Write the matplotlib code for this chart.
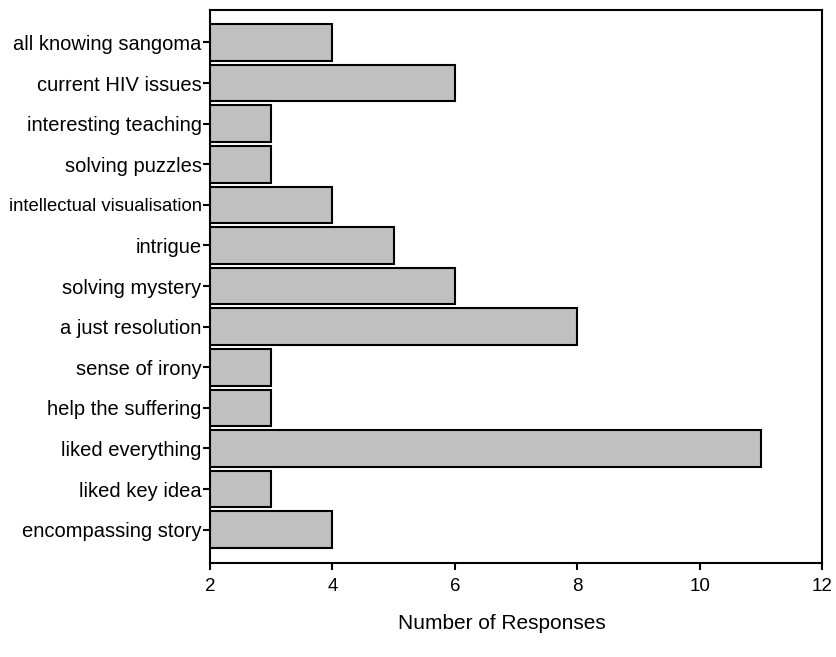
import matplotlib.pyplot as plt

plt.rcParams['font.family'] = ['Liberation Sans', 'DejaVu Sans']

# bottom to top
categories = ["encompassing story", "liked key idea", "liked everything", "help the suffering",
              "sense of irony", "a just resolution", "solving mystery", "intrigue",
              "intellectual visualisation", "solving puzzles", "interesting teaching",
              "current HIV issues", "all knowing sangoma"]
responses = [4, 3, 11, 3, 3, 8, 6, 5, 4, 3, 3, 6, 4]
xticks = [2, 4, 6, 8, 10, 12]

fig = plt.figure(figsize=(8.36, 6.57), dpi=100)
ax = fig.add_axes([0.2512, 0.1431, 0.7321, 0.8417])

pos = list(range(len(categories)))
ax.barh(pos, responses, height=0.9, color="#c0c0c0", edgecolor="black", linewidth=1.5)

ax.set_xlim(2, 12)
ax.set_ylim(-0.82, 12.8)
ax.set_xticks(xticks)
ax.set_xticklabels([str(x) for x in xticks], fontsize=13.5)
ax.set_yticks(pos)
ax.set_yticklabels(categories, fontsize=14.5)
for lab in ax.get_yticklabels():
    if lab.get_text() == "intellectual visualisation":
        lab.set_fontsize(13.3)

ax.tick_params(axis="both", direction="out", length=5, width=1.5, pad=1)
ax.tick_params(axis="x", pad=6)
for sp in ax.spines.values():
    sp.set_linewidth(1.5)

ax.set_xlabel("Number of Responses", fontsize=15)
ax.xaxis.set_label_coords(0.477, -0.093)

fig.savefig("out.png", dpi=100)
